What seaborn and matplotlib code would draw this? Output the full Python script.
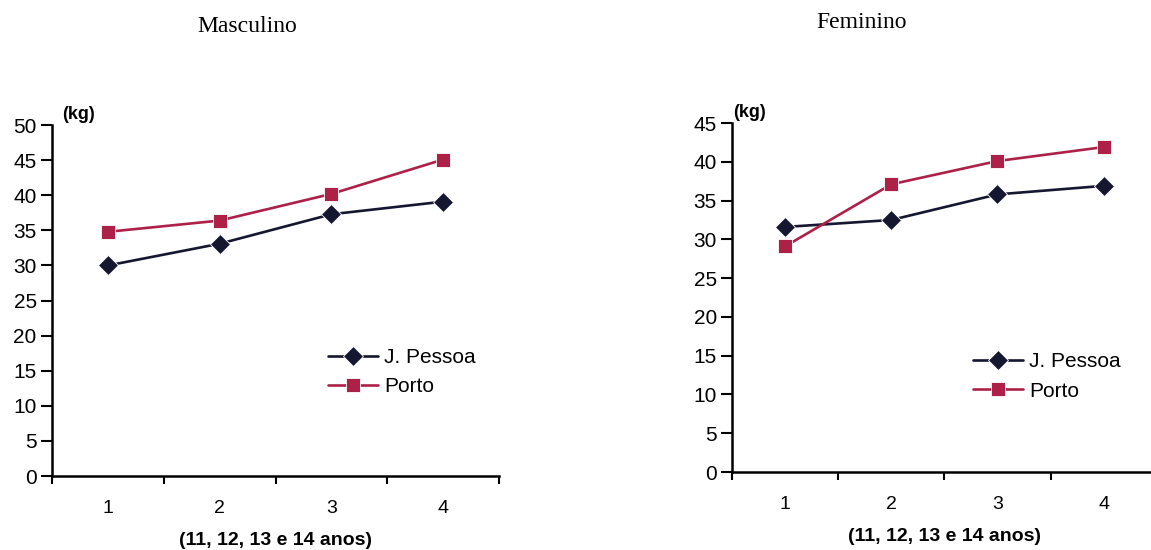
import matplotlib
matplotlib.use("Agg")
import matplotlib.pyplot as plt
import seaborn as sns
import pandas as pd

# Mean body mass (kg) by age group, two cities
age_groups = [1, 2, 3, 4]
cities = ["J. Pessoa", "Porto"]
masc_jpessoa = [30.0, 33.1, 37.3, 39.1]
masc_porto = [34.8, 36.4, 40.2, 45.1]
fem_jpessoa = [31.6, 32.5, 35.8, 36.9]
fem_porto = [29.1, 37.1, 40.1, 41.9]
panel_titles = ["Masculino", "Feminino"]
x_label = "(11, 12, 13 e 14 anos)"
y_unit = "(kg)"


def long_table(jp, po):
    return pd.DataFrame({
        "grupo": age_groups * 2,
        "massa": jp + po,
        "cidade": [cities[0]] * 4 + [cities[1]] * 4,
    })


sns.set_theme(style="white")
plt.rcParams["font.family"] = ["Liberation Sans", "DejaVu Sans"]
plt.rcParams["text.color"] = "black"
plt.rcParams["axes.labelcolor"] = "black"

fig = plt.figure(figsize=(11.51, 5.5), dpi=100)
ax_m = fig.add_axes([0.0452, 0.1345, 0.3884, 0.638])
ax_f = fig.add_axes([0.636, 0.1418, 0.369, 0.6345])

palette = {"J. Pessoa": "#15162f", "Porto": "#ad2149"}
markers = {"J. Pessoa": "D", "Porto": "s"}

panels = [
    (ax_m, long_table(masc_jpessoa, masc_porto), 50, (0.617, 0.296), 0.022),
    (ax_f, long_table(fem_jpessoa, fem_porto), 45, (0.567, 0.274), 0.002),
]

for ax, df, ymax, leg_pos, unit_x in panels:
    sns.lineplot(data=df, x="grupo", y="massa", hue="cidade", style="cidade",
                 palette=palette, markers=markers, dashes=False,
                 markersize=10, linewidth=1.9, markeredgewidth=0.6,
                 ax=ax)
    ax.set_xlim(0.5, 4.5)
    ax.set_ylim(0, ymax)
    ax.set_yticks(range(0, ymax + 1, 5))
    ax.set_xticks([0.5, 1.5, 2.5, 3.5, 4.5])
    ax.set_xticklabels([])
    ax.set_xticks(age_groups, minor=True)
    ax.set_xticklabels([str(g) for g in age_groups], minor=True)
    ax.tick_params(axis="x", which="major", direction="out", length=6,
                   width=1.5, color="black", bottom=True)
    ax.tick_params(axis="x", which="minor", length=0, pad=17,
                   labelsize=14, colors="black")
    ax.tick_params(axis="y", direction="out", length=8, width=1.5,
                   color="black", left=True, labelsize=15,
                   labelcolor="black", pad=3)
    for side in ("top", "right"):
        ax.spines[side].set_visible(False)
    for side in ("left", "bottom"):
        ax.spines[side].set_color("black")
        ax.spines[side].set_linewidth(1.8)
    ax.set_xlabel(x_label, fontsize=14, fontweight="bold", labelpad=11,
                  color="black")
    ax.set_ylabel("")
    ax.text(unit_x, 1.005, y_unit, transform=ax.transAxes, fontsize=13,
            fontweight="bold", ha="left", va="bottom", color="black")
    leg = ax.legend(loc="center left", bbox_to_anchor=leg_pos, frameon=False,
                    fontsize=15, handlelength=2.4, handletextpad=0.3,
                    labelspacing=0.5, borderaxespad=0, borderpad=0)
    for t in leg.get_texts():
        t.set_color("black")

for title, xc, yc in zip(panel_titles, (0.2146, 0.749), (0.952, 0.96)):
    fig.text(xc, yc, title, ha="center", va="center", fontsize=17,
             color="black", family=["Liberation Serif", "DejaVu Serif"])

fig.savefig("out.png", dpi=100)
